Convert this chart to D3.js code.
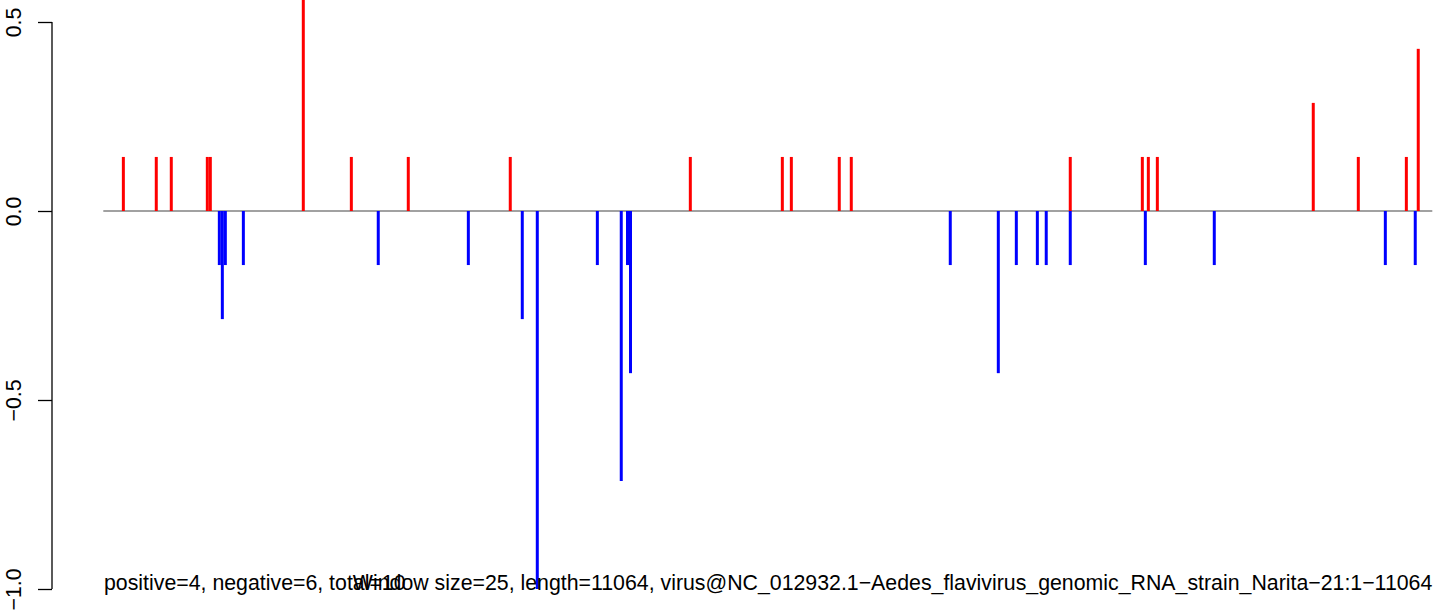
<!DOCTYPE html>
<html>
<head>
<meta charset="utf-8">
<script src="https://cdn.jsdelivr.net/npm/d3@7"></script>
<style>
  html, body { margin: 0; padding: 0; background: #fff; }
  svg { display: block; }
  text { font-family: "Liberation Sans", Arial, Helvetica, sans-serif; fill: #000; }
</style>
</head>
<body>
<svg id="chart" width="1444" height="613"></svg>
<script>
// Genome position (nt) of each window and its score
const posPositions = [167, 441, 566, 866, 891, 1665, 2065, 2539, 3388, 4887, 5653, 5728, 6127, 6227, 8050, 8650, 8700, 8775, 10073, 10448, 10848, 10947];
const posValues    = [0.143, 0.143, 0.143, 0.143, 0.143, 0.571, 0.143, 0.143, 0.143, 0.143, 0.143, 0.143, 0.143, 0.143, 0.143, 0.143, 0.143, 0.143, 0.286, 0.143, 0.143, 0.429];

const negPositions = [966, 991, 1016, 1166, 2289, 3039, 3488, 3613, 4113, 4312, 4364, 4389, 7051, 7451, 7601, 7776, 7850, 8050, 8675, 9249, 10673, 10922];
const negValues    = [-0.143, -0.286, -0.143, -0.143, -0.143, -0.143, -0.286, -1.0, -0.143, -0.714, -0.143, -0.429, -0.143, -0.429, -0.143, -0.143, -0.143, -0.143, -0.143, -0.143, -0.143, -0.143];

const yTicks = [-1.0, -0.5, 0.0, 0.5];
const genomeLength = 11064;
const leftNote  = "positive=4, negative=6, total=10";
const rightNote = "Window size=25, length=11064, virus@NC_012932.1\u2212Aedes_flavivirus_genomic_RNA_strain_Narita\u221221:1\u221211064";

const svg = d3.select("#chart");
const x = d3.scaleLinear().domain([0, genomeLength]).range([103.3, 1432.3]);
const y = d3.scaleLinear().domain([-1, 0.5]).range([589, 22]);

// zero line
svg.append("line")
  .attr("x1", x(0)).attr("x2", x(genomeLength))
  .attr("y1", y(0)).attr("y2", y(0))
  .attr("stroke", "#444").attr("stroke-width", 1.2);

const pos = posPositions.map((p, i) => ({p, v: posValues[i]}));
const neg = negPositions.map((p, i) => ({p, v: negValues[i]}));

svg.append("g").selectAll("line").data(pos).join("line")
  .attr("x1", d => x(d.p)).attr("x2", d => x(d.p))
  .attr("y1", y(0)).attr("y2", d => y(d.v))
  .attr("stroke", "#ff0000").attr("stroke-width", 3);

svg.append("g").selectAll("line").data(neg).join("line")
  .attr("x1", d => x(d.p)).attr("x2", d => x(d.p))
  .attr("y1", y(0)).attr("y2", d => y(d.v))
  .attr("stroke", "#0000ff").attr("stroke-width", 3);

// y axis
const axis = d3.axisLeft(y).tickValues(yTicks).tickSize(14).tickPadding(0)
  .tickFormat(d3.format(".1f"));
const gA = svg.append("g").attr("transform", "translate(52,0)").call(axis);
gA.select(".domain").attr("d", `M0,${y(0.5)}V${y(-1)}`).attr("stroke", "#000").attr("stroke-width", 1.3);
gA.selectAll(".tick line").attr("stroke", "#000").attr("stroke-width", 1.3);
gA.selectAll(".tick text")
  .attr("x", 0).attr("y", 0).attr("dy", null)
  .attr("transform", "translate(-31,0) rotate(-90)")
  .attr("text-anchor", "middle")
  .attr("font-size", 18)
  .style("font-family", '"Liberation Sans", Arial, sans-serif');

// bottom notes
const fs = 18;
const rt = svg.append("text").attr("x", 1432.3).attr("y", 590)
  .attr("text-anchor", "end").attr("font-size", fs).text(rightNote);
const w = rt.node().getComputedTextLength();
const fs2 = fs * (1432.3 - 352) / w;
rt.attr("font-size", fs2);
svg.append("text").attr("x", 104).attr("y", 590)
  .attr("text-anchor", "start").attr("font-size", fs2).text(leftNote);
gA.selectAll(".tick text").attr("font-size", fs2);
</script>
</body>
</html>
